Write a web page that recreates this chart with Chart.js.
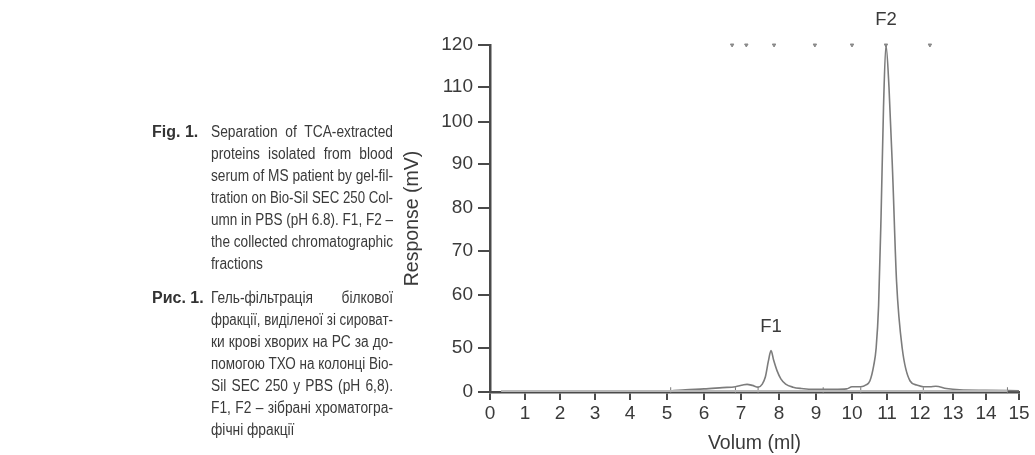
<!DOCTYPE html>
<html>
<head>
<meta charset="utf-8">
<script src="https://cdn.jsdelivr.net/npm/chart.js@4/dist/chart.umd.min.js"></script>
<style>
  html, body { margin: 0; padding: 0; background: #fff; }
  #wrap { position: relative; width: 1035px; height: 455px; overflow: hidden; }
  canvas { position: absolute; left: 0; top: 0; }
  .cap { position: absolute; font-family: "Liberation Sans", Arial, sans-serif; font-size: 16px; color: #3a3a3a; line-height: 22px; }
  .lab { font-weight: bold; font-size: 16px; left: 152px; white-space: nowrap; color: #333; }
  .txt { left: 211px; width: 182px; }
  .txt div { white-space: nowrap; transform-origin: 0 0; text-align: justify; text-align-last: justify; }
  .txt div.last { text-align-last: left; }
</style>
</head>
<body>
<div id="wrap">
  <canvas id="c" width="1035" height="455"></canvas>
  <div class="cap lab" style="top:121px;">Fig. 1.</div>
  <div class="cap txt" style="top:121px;">
    <div>Separation of TCA-extracted</div>
    <div>proteins isolated from blood</div>
    <div>serum of MS patient by gel-fil-</div>
    <div>tration on Bio-Sil SEC 250 Col-</div>
    <div>umn in PBS (pH 6.8). F1, F2 –</div>
    <div>the collected chromatographic</div>
    <div class="last">fractions</div>
  </div>
  <div class="cap lab" style="top:287px;">Рис. 1.</div>
  <div class="cap txt" style="top:287px;">
    <div>Гель-фільтрація білкової</div>
    <div>фракції, виділеної зі сироват-</div>
    <div>ки крові хворих на РС за до-</div>
    <div>помогою ТХО на колонці Bio-</div>
    <div>Sil SEC 250 у PBS (pH 6,8).</div>
    <div>F1, F2 – зібрані хроматогра-</div>
    <div class="last">фічні фракції</div>
  </div>
</div>
<script>
// ---- data ----
const volume = [0.32, 1, 2, 3, 4, 5, 5.1, 5.5, 6.0, 6.5, 6.85, 7.05, 7.16, 7.3, 7.45, 7.56, 7.64, 7.72, 7.79, 7.86, 7.95, 8.05, 8.18, 8.38, 8.6, 9.0, 9.5, 9.85, 10.0, 10.25, 10.4, 10.51, 10.62, 10.69, 10.76, 10.83, 10.9, 10.97, 11.06, 11.17, 11.29, 11.46, 11.7, 11.9, 12.1, 12.3, 12.48, 12.8, 13.2, 14.0, 15.0];
const response = [1, 1, 1, 1, 1, 1, 1.2, 2.5, 3.5, 5, 6, 8, 8.7, 7.5, 5.5, 9, 17, 35, 47, 36, 24, 15, 9, 5.5, 4, 3, 3, 3.5, 6, 6, 8, 12.5, 30, 50, 58, 78, 104, 120, 110, 88, 63, 50, 12.5, 8, 6, 6, 6.5, 4, 2.5, 2, 1.5];
const baselineX = [0.32, 14.65];
const baselineY = [1, 1];
const dropLineX = [5.1, 6.85, 7.45, 9.2, 10.25, 12.1, 14.65];
const dropLineY = [2, 2, 2, 2, 2, 2, 2];
const fractionX = [6.76, 7.14, 7.87, 8.97, 10.0, 10.97, 12.3];
const fractionY = [120, 120, 120, 120, 120, 120, 120];
const peakNames = ['F1', 'F2'];
const peakX = [7.79, 10.97];
const peakY = [47, 120];
const yTickLabels = [0, 50, 60, 70, 80, 90, 100, 110, 120];
const xTickLabels = [0, 1, 2, 3, 4, 5, 6, 7, 8, 9, 10, 11, 12, 13, 14, 15];
// hand-drawn axis layout of the original figure: where each tick sits along its axis
const yTickPos = [0, 44, 97, 141, 184, 228, 270, 305, 347];
const xTickPos = [0, 35, 70, 105, 140, 177, 214, 251, 289, 326, 362, 397, 430, 463, 496, 529];

function interp(v, vals, pos) {
  const n = vals.length;
  for (let i = 0; i < n - 1; i++) {
    if (v <= vals[i + 1] || i === n - 2) {
      return pos[i] + (v - vals[i]) / (vals[i + 1] - vals[i]) * (pos[i + 1] - pos[i]);
    }
  }
}
const toY = v => interp(v, yTickLabels, yTickPos);
const toX = v => interp(v, xTickLabels, xTickPos);
const pts = (xs, ys) => xs.map((x, i) => ({ x: toX(x), y: toY(ys[i]) }));

const FONT = '"Liberation Sans", Arial, sans-serif';
const TXT = '#3a3a3a';
const AX = '#4a4a4a';

const peakLabels = {
  id: 'peakLabels',
  afterDatasetsDraw(chart) {
    const { ctx, scales } = chart;
    const offs = [14, 16];
    ctx.save();
    ctx.font = '18.5px ' + FONT;
    ctx.fillStyle = TXT;
    ctx.textAlign = 'center';
    ctx.textBaseline = 'bottom';
    peakNames.forEach((n, i) => {
      const px = scales.x.getPixelForValue(toX(peakX[i]));
      const py = scales.y.getPixelForValue(toY(peakY[i]));
      ctx.fillText(n, px, py - offs[i]);
    });
    ctx.restore();
  }
};

new Chart(document.getElementById('c'), {
  type: 'scatter',
  data: {
    datasets: [
      { data: pts(baselineX, baselineY), showLine: true, borderColor: '#b8b8b8', borderWidth: 2, pointRadius: 0, clip: false },
      { data: pts(volume, response), showLine: true, borderColor: '#7c7c7c', borderWidth: 1.6, pointRadius: 0, cubicInterpolationMode: 'monotone', clip: false },
      { data: pts(dropLineX, dropLineY), showLine: false, pointStyle: 'line', rotation: 90, radius: 3, borderColor: '#777', borderWidth: 1, clip: false },
      { data: pts(fractionX, fractionY), showLine: false, pointStyle: 'triangle', rotation: 180, radius: 2, backgroundColor: '#8a8a8a', borderColor: '#8a8a8a', borderWidth: 1, clip: false }
    ]
  },
  options: {
    responsive: false,
    animation: false,
    devicePixelRatio: 1,
    layout: { padding: { left: 390, top: 45, right: 16, bottom: 0 } },
    plugins: { legend: { display: false }, tooltip: { enabled: false } },
    scales: {
      x: {
        type: 'linear', min: 0, max: xTickPos[xTickPos.length - 1],
        afterFit(s) { s.height = 63; },
        afterBuildTicks(s) { s.ticks = xTickPos.map(v => ({ value: v })); },
        grid: { drawOnChartArea: false, color: AX, lineWidth: 2, tickLength: 8 },
        border: { color: AX, width: 2.5 },
        ticks: { color: TXT, font: { family: FONT, size: 19 }, padding: 2, maxRotation: 0, autoSkip: false,
          callback: (v, i) => String(xTickLabels[i]) },
        title: { display: true, text: 'Volum (ml)', color: TXT, font: { family: FONT, size: 19.5 }, padding: { top: 0, bottom: 0 } }
      },
      y: {
        type: 'linear', min: 0, max: yTickPos[yTickPos.length - 1],
        afterFit(s) { s.width = 100; },
        afterBuildTicks(s) { s.ticks = yTickPos.map(v => ({ value: v })); },
        grid: { drawOnChartArea: false, color: AX, lineWidth: 2, tickLength: 12 },
        border: { color: AX, width: 2.5 },
        ticks: { color: TXT, font: { family: FONT, size: 19 }, padding: 5, autoSkip: false,
          callback: (v, i) => String(yTickLabels[i]) },
        title: { display: true, text: 'Response (mV)', color: TXT, font: { family: FONT, size: 19.5 }, padding: { top: 11, bottom: 0 } }
      }
    }
  },
  plugins: [peakLabels]
});

// slightly condensed caption type: each line is justified wide, then squeezed into the column
document.querySelectorAll('.txt div').forEach(d => {
  const W = 182, base = 0.86;
  const sp = document.createElement('span');
  sp.textContent = d.textContent;
  const t = sp.textContent;
  d.textContent = '';
  d.appendChild(sp);
  const w = sp.getBoundingClientRect().width;
  d.textContent = t;
  const s = Math.min(base, W / w);
  d.style.width = (W / s) + 'px';
  d.style.transform = 'scaleX(' + s + ')';
});
</script>
</body>
</html>
